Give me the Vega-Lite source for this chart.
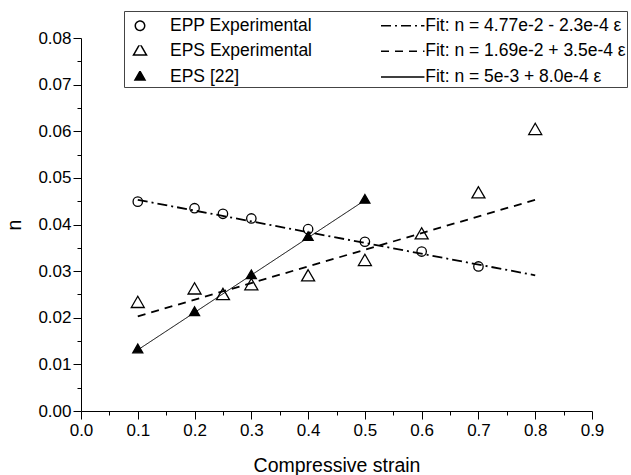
{
  "$schema": "https://vega.github.io/schema/vega-lite/v6.json",
  "width": 511,
  "height": 373,
  "autosize": {"type": "none"},
  "padding": {"left": 81, "top": 38, "right": 39, "bottom": 64},
  "background": "white",
  "config": {
    "view": {"stroke": null},
    "font": "Liberation Sans",
    "axis": {"grid": false, "domainColor": "black", "tickColor": "black", "labelColor": "black", "titleColor": "black", "titleFontWeight": "normal", "labelFlush": false, "labelOverlap": false, "domainWidth": 1, "tickWidth": 1},
    "legend": {
      "orient": "none", "legendX": 43, "legendY": -27, "columns": 2, "direction": "horizontal",
      "padding": 1, "rowPadding": 7.75, "columnPadding": 67.25, "labelOffset": 15, "symbolOffset": 0,
      "symbolSize": 812, "symbolStrokeWidth": 1.5, "clipHeight": 12,
      "titleFontSize": 4, "titlePadding": 3.5,
      "labelLimit": 400, "labelFontSize": 17.5, "labelColor": "black", "labelFont": "Liberation Sans",
      "strokeColor": "#444444", "fillColor": "white", "gridAlign": "each"
    }
  },
  "data": {
    "values": [
      {"series": "EPP Experimental", "kind": "point", "strain": 0.1, "n": 0.0449},
      {"series": "EPP Experimental", "kind": "point", "strain": 0.2, "n": 0.0435},
      {"series": "EPP Experimental", "kind": "point", "strain": 0.25, "n": 0.0423},
      {"series": "EPP Experimental", "kind": "point", "strain": 0.3, "n": 0.0413},
      {"series": "EPP Experimental", "kind": "point", "strain": 0.4, "n": 0.0390},
      {"series": "EPP Experimental", "kind": "point", "strain": 0.5, "n": 0.0363},
      {"series": "EPP Experimental", "kind": "point", "strain": 0.6, "n": 0.0342},
      {"series": "EPP Experimental", "kind": "point", "strain": 0.7, "n": 0.0310},
      {"series": "EPS Experimental", "kind": "point", "strain": 0.1, "n": 0.0230},
      {"series": "EPS Experimental", "kind": "point", "strain": 0.2, "n": 0.0259},
      {"series": "EPS Experimental", "kind": "point", "strain": 0.25, "n": 0.0247},
      {"series": "EPS Experimental", "kind": "point", "strain": 0.3, "n": 0.0268},
      {"series": "EPS Experimental", "kind": "point", "strain": 0.4, "n": 0.0287},
      {"series": "EPS Experimental", "kind": "point", "strain": 0.5, "n": 0.0320},
      {"series": "EPS Experimental", "kind": "point", "strain": 0.6, "n": 0.0377},
      {"series": "EPS Experimental", "kind": "point", "strain": 0.7, "n": 0.0465},
      {"series": "EPS Experimental", "kind": "point", "strain": 0.8, "n": 0.0601},
      {"series": "EPS [22]", "kind": "point", "strain": 0.1, "n": 0.0131},
      {"series": "EPS [22]", "kind": "point", "strain": 0.2, "n": 0.0211},
      {"series": "EPS [22]", "kind": "point", "strain": 0.3, "n": 0.0290},
      {"series": "EPS [22]", "kind": "point", "strain": 0.4, "n": 0.0372},
      {"series": "EPS [22]", "kind": "point", "strain": 0.5, "n": 0.0452},
      {"series": "Fit: n = 4.77e-2 - 2.3e-4 ε", "kind": "fitdash", "strain": 0.1, "n": 0.0453},
      {"series": "Fit: n = 4.77e-2 - 2.3e-4 ε", "kind": "fitdash", "strain": 0.8, "n": 0.0291},
      {"series": "Fit: n = 1.69e-2 + 3.5e-4 ε", "kind": "fitdash", "strain": 0.1, "n": 0.0203},
      {"series": "Fit: n = 1.69e-2 + 3.5e-4 ε", "kind": "fitdash", "strain": 0.8, "n": 0.0453},
      {"series": "Fit: n = 5e-3 + 8.0e-4 ε", "kind": "fitsolid", "strain": 0.1, "n": 0.0131},
      {"series": "Fit: n = 5e-3 + 8.0e-4 ε", "kind": "fitsolid", "strain": 0.5, "n": 0.0452}
    ]
  },
  "layer": [
    {
      "transform": [{"filter": "datum.kind === 'point'"}],
      "mark": {"type": "point", "filled": true, "stroke": "black", "strokeWidth": 1.3, "size": 812, "opacity": 1},
      "encoding": {
        "x": {"field": "strain", "type": "quantitative", "scale": {"domain": [0, 0.9], "nice": false, "zero": false},
          "axis": {"orient": "bottom", "values": [0, 0.1, 0.2, 0.3, 0.4, 0.5, 0.6, 0.7, 0.8, 0.9], "format": ".1f", "tickSize": 8, "labelFontSize": 17, "labelPadding": 3, "title": "Compressive strain", "titleFontSize": 19.5, "titleY": 54, "titleBaseline": "middle"}},
        "y": {"field": "n", "type": "quantitative", "scale": {"domain": [0, 0.08], "nice": false, "zero": false},
          "axis": {"orient": "left", "values": [0, 0.01, 0.02, 0.03, 0.04, 0.05, 0.06, 0.07, 0.08], "format": ".2f", "tickSize": 8, "labelFontSize": 17, "labelPadding": 2, "title": "n", "titleFontSize": 19.5, "titleX": -67, "titleAngle": 270, "titleBaseline": "middle"}},
        "shape": {"field": "series", "type": "nominal",
          "scale": {"domain": ["EPP Experimental", "Fit: n = 4.77e-2 - 2.3e-4 ε", "EPS Experimental", "Fit: n = 1.69e-2 + 3.5e-4 ε", "EPS [22]", "Fit: n = 5e-3 + 8.0e-4 ε"],
            "range": ["M-1.193,0M0.33,0A0.33,0.33,0,1,1,-0.33,0A0.33,0.33,0,1,1,0.33,0Z", "M-1,0H2.05", "M-1.193,0M0,-0.527L-0.456,0.263L0.456,0.263Z", "M-1,0H2.05", "M-1.193,0M0,-0.405L-0.351,0.203L0.351,0.203Z", "M-1,0H2.05"]},
          "legend": {"title": " ", "labelExpr": "indexof(datum.label, '4.77') >= 0 ? datum.label + '\u00a0\u00a0\u00a0' : datum.label", "encode": {"symbols": {"update": {"stroke": {"value": "black"}, "strokeWidth": {"value": 1.5}}}}}},
        "fill": {"field": "series", "type": "nominal",
          "scale": {"domain": ["EPP Experimental", "Fit: n = 4.77e-2 - 2.3e-4 ε", "EPS Experimental", "Fit: n = 1.69e-2 + 3.5e-4 ε", "EPS [22]", "Fit: n = 5e-3 + 8.0e-4 ε"],
            "range": ["transparent", "transparent", "transparent", "transparent", "black", "transparent"]},
          "legend": {"title": " ", "labelExpr": "indexof(datum.label, '4.77') >= 0 ? datum.label + '\u00a0\u00a0\u00a0' : datum.label", "encode": {"symbols": {"update": {"stroke": {"value": "black"}, "strokeWidth": {"value": 1.5}}}}}}
      }
    },
    {
      "transform": [{"filter": "datum.kind === 'fitdash'"}],
      "mark": {"type": "line", "stroke": "black", "strokeWidth": 1.8},
      "encoding": {
        "x": {"field": "strain", "type": "quantitative",
          "axis": {"orient": "bottom", "values": [0.05, 0.15, 0.25, 0.35, 0.45, 0.55, 0.65, 0.75, 0.85], "labels": false, "domain": false, "tickSize": 4, "title": null}},
        "y": {"field": "n", "type": "quantitative",
          "axis": {"orient": "left", "values": [0.005, 0.015, 0.025, 0.035, 0.045, 0.055, 0.065, 0.075], "labels": false, "domain": false, "tickSize": 4, "title": null}},
        "strokeDash": {"field": "series", "type": "nominal",
          "scale": {"domain": ["EPP Experimental", "Fit: n = 4.77e-2 - 2.3e-4 ε", "EPS Experimental", "Fit: n = 1.69e-2 + 3.5e-4 ε", "EPS [22]", "Fit: n = 5e-3 + 8.0e-4 ε"],
            "range": [[1, 0], [10, 4, 2, 4], [1, 0], [8, 6], [1, 0], [1, 0]]},
          "legend": {"title": " ", "labelExpr": "indexof(datum.label, '4.77') >= 0 ? datum.label + '\u00a0\u00a0\u00a0' : datum.label", "encode": {"symbols": {"update": {"stroke": {"value": "black"}, "strokeWidth": {"value": 1.5}}}}}}
      }
    },
    {
      "transform": [{"filter": "datum.kind === 'fitsolid'"}],
      "mark": {"type": "line", "stroke": "black", "strokeWidth": 1},
      "encoding": {
        "x": {"field": "strain", "type": "quantitative", "axis": null},
        "y": {"field": "n", "type": "quantitative", "axis": null},
        "strokeDash": {"field": "series", "type": "nominal",
          "scale": {"domain": ["EPP Experimental", "Fit: n = 4.77e-2 - 2.3e-4 ε", "EPS Experimental", "Fit: n = 1.69e-2 + 3.5e-4 ε", "EPS [22]", "Fit: n = 5e-3 + 8.0e-4 ε"],
            "range": [[1, 0], [10, 4, 2, 4], [1, 0], [8, 6], [1, 0], [1, 0]]},
          "legend": {"title": " ", "labelExpr": "indexof(datum.label, '4.77') >= 0 ? datum.label + '\u00a0\u00a0\u00a0' : datum.label", "encode": {"symbols": {"update": {"stroke": {"value": "black"}, "strokeWidth": {"value": 1.5}}}}}}
      }
    }
  ],
  "resolve": {"axis": {"x": "independent", "y": "independent"}}
}
